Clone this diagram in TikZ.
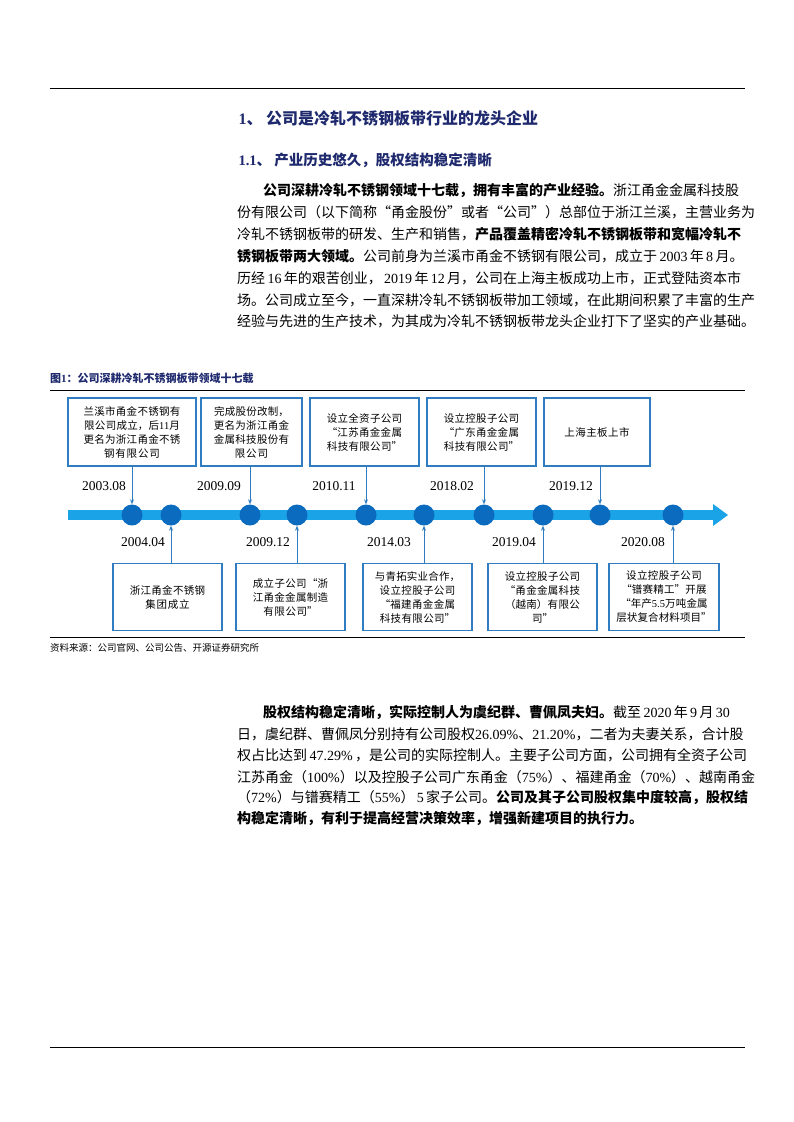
\documentclass[tikz,border=0pt]{standalone}
\usepackage{fontspec}
\setmainfont{Noto Sans CJK SC}
\newfontfamily\lat{Liberation Serif}
\XeTeXlinebreaklocale "zh"
\XeTeXlinebreakskip=0pt plus 0.5pt
\usetikzlibrary{arrows.meta}
\definecolor{navy}{HTML}{1F2A6E}
\definecolor{bar}{HTML}{1AA3E6}
\definecolor{dot}{HTML}{0A6BBF}
\definecolor{bx}{HTML}{2F7DC0}
\tikzset{
 body/.style={anchor=west,font=\fontsize{14}{15}\selectfont,inner sep=0},
 tbox/.style={draw=bx,line width=1.1pt,align=center,font=\fontsize{10.5}{14}\selectfont,inner sep=2pt},
 date/.style={font=\lat\fontsize{13.5}{15}\selectfont},
 dotc/.style={circle,fill=dot,minimum size=21pt,inner sep=0},
 conn/.style={bx,line width=0.9pt,-{Stealth[length=5pt,width=4pt]}}
}
\newcommand{\jl}[1]{\resizebox{!}{!}{#1}}
\newcommand{\n}[1]{\,{\lat #1}\,}
\begin{document}
\begin{tikzpicture}[x=1pt,y=-1pt]
\useasboundingbox (0,0) rectangle (793,1122);
\fill[white] (0,0) rectangle (793,1122);
\draw[line width=0.6pt] (50,88) -- (745,88);
\draw[line width=0.6pt] (50,1047) -- (745,1047);
\node[anchor=west,text=navy,font=\bfseries\fontsize{16}{18}\selectfont] (h1) at (235,118) {{\lat\bfseries 1}、\ 公司是冷轧不锈钢板带行业的龙头企业};
\node[anchor=west,text=navy,font=\bfseries\fontsize{14.5}{17}\selectfont] (h2) at (235,160) {{\lat\bfseries 1.1}、\ 产业历史悠久，股权结构稳定清晰};
\node[body] (p1) at (237,190) {\hspace{26pt}\textbf{公司深耕冷轧不锈钢领域十七载，拥有丰富的产业经验。}浙江甬金金属科技股};
\node[body] (p2) at (237,212) {份有限公司（以下简称“甬金股份”或者“公司”）总部位于浙江兰溪，主营业务为};
\node[body] (p3) at (237,234) {冷轧不锈钢板带的研发、生产和销售，\textbf{产品覆盖精密冷轧不锈钢板带和宽幅冷轧不}};
\node[body] (p4) at (237,256) {\textbf{锈钢板带两大领域。}公司前身为兰溪市甬金不锈钢有限公司，成立于\n{2003}年\n{8}月。};
\node[body] (p5) at (237,278) {历经\n{16}年的艰苦创业，\n{2019}年\n{12}月，公司在上海主板成功上市，正式登陆资本市};
\node[body] (p6) at (237,300) {场。公司成立至今，一直深耕冷轧不锈钢板带加工领域，在此期间积累了丰富的生产};
\node[body] (p7) at (237,321) {经验与先进的生产技术，为其成为冷轧不锈钢板带龙头企业打下了坚实的产业基础。};
% figure
\node[anchor=west,text=navy,font=\bfseries\fontsize{11}{13}\selectfont,inner sep=0] (ft) at (50,378) {图{\lat\bfseries 1}：公司深耕冷轧不锈钢板带领域十七载};
\draw[line width=0.8pt] (50,390) -- (745,390);
\draw[line width=0.8pt] (50,637) -- (745,637);
\node[anchor=west,font=\fontsize{9.5}{11}\selectfont,inner sep=0] (src) at (50,648) {资料来源：公司官网、公司公告、开源证券研究所};
\fill[bar] (68,510) rectangle (715,520);
\fill[bar] (713,504) -- (728,515) -- (713,526) -- cycle;
\foreach \nn/\x in {c1/132,c2/171,c3/250,c4/297,c5/366,c6/424,c7/484,c8/543,c9/600,c10/673}
  \node[dotc] (\nn) at (\x,515) {};
% top boxes
\node[tbox,minimum width=128pt,minimum height=68pt,text width=122pt] (t1) at (132,432) {兰溪市甬金不锈钢有\\限公司成立，后{\lat 11}月\\更名为浙江甬金不锈\\钢有限公司};
\node[tbox,minimum width=101pt,minimum height=68pt,text width=97pt] (t2) at (251.5,432) {完成股份改制，\\更名为浙江甬金\\金属科技股份有\\限公司};
\node[tbox,minimum width=109pt,minimum height=68pt,text width=103pt] (t3) at (364.5,432) {设立全资子公司\\“江苏甬金金属\\科技有限公司”};
\node[tbox,minimum width=109pt,minimum height=68pt,text width=103pt] (t4) at (481.5,432) {设立控股子公司\\“广东甬金金属\\科技有限公司”};
\node[tbox,minimum width=106pt,minimum height=68pt,text width=100pt] (t5) at (597,432) {上海主板上市};
% bottom boxes
\node[tbox,minimum width=109pt,minimum height=67pt,text width=103pt] (b1) at (167.5,597) {浙江甬金不锈钢\\集团成立};
\node[tbox,minimum width=109pt,minimum height=67pt,text width=103pt] (b2) at (290.5,597) {成立子公司“浙\\江甬金金属制造\\有限公司”};
\node[tbox,minimum width=109pt,minimum height=67pt,text width=105pt] (b3) at (417.5,597) {与青拓实业合作，\\设立控股子公司\\“福建甬金金属\\科技有限公司”};
\node[tbox,minimum width=109pt,minimum height=67pt,text width=103pt] (b4) at (542.5,597) {设立控股子公司\\“甬金金属科技\\（越南）有限公\\司”};
\node[tbox,minimum width=108pt,minimum height=67pt,text width=106pt] (b5) at (664,597) {设立控股子公司\\“镨赛精工”开展\\“年产{\lat 5.5}万吨金属\\层状复合材料项目”};
\foreach \t/\c in {t1/c1,t2/c3,t3/c5,t4/c7,t5/c9}
  \draw[conn] (\t.south -| \c) -- (\c.north);
\foreach \b/\c in {b1/c2,b2/c4,b3/c6,b4/c8,b5/c10}
  \draw[conn] (\b.north -| \c) -- (\c.south);
\node[date] (d1) at (104,486) {2003.08};
\node[date] (d2) at (219,486) {2009.09};
\node[date] (d3) at (334,486) {2010.11};
\node[date] (d4) at (452,486) {2018.02};
\node[date] (d5) at (571,486) {2019.12};
\node[date] (e1) at (143,542) {2004.04};
\node[date] (e2) at (268,542) {2009.12};
\node[date] (e3) at (389,542) {2014.03};
\node[date] (e4) at (514,542) {2019.04};
\node[date] (e5) at (643,542) {2020.08};
% second paragraph
\node[body] (q1) at (237,712) {\hspace{26pt}\textbf{股权结构稳定清晰，实际控制人为虞纪群、曹佩凤夫妇。}截至\n{2020}年\n{9}月\n{30}};
\node[body] (q2) at (237,734) {日，虞纪群、曹佩凤分别持有公司股权{\lat 26.09\%}、{\lat 21.20\%}，二者为夫妻关系，合计股};
\node[body] (q3) at (237,755) {权占比达到\n{47.29\%}，是公司的实际控制人。主要子公司方面，公司拥有全资子公司};
\node[body] (q4) at (237,777) {江苏甬金（{\lat 100\%}）以及控股子公司广东甬金（{\lat 75\%}）、福建甬金（{\lat 70\%}）、越南甬金};
\node[body] (q5) at (237,798) {（{\lat 72\%}）与镨赛精工（{\lat 55\%}）\n{5}家子公司。\textbf{公司及其子公司股权集中度较高，股权结}};
\node[body] (q6) at (237,818) {\textbf{构稳定清晰，有利于提高经营决策效率，增强新建项目的执行力。}};
\end{tikzpicture}
\end{document}
